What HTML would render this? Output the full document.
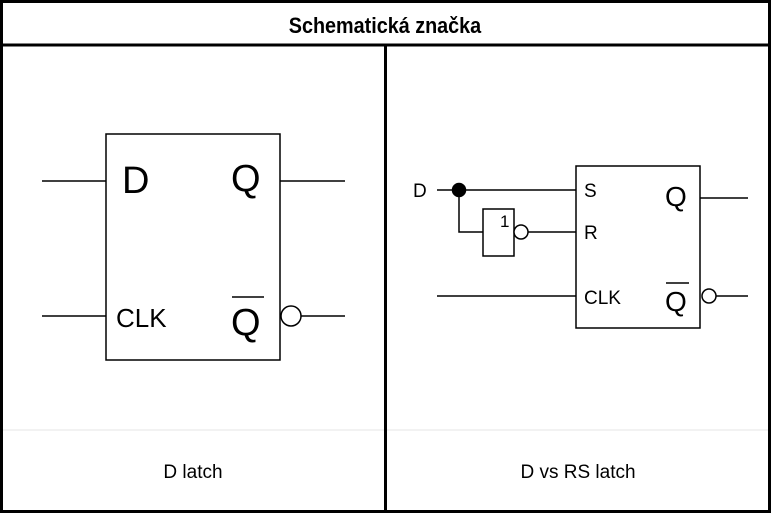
<!DOCTYPE html>
<html><head><meta charset="utf-8"><style>
body{margin:0;width:771px;height:513px;background:#fff;overflow:hidden}
</style></head><body>
<svg width="771" height="513" viewBox="0 0 771 513" xmlns="http://www.w3.org/2000/svg">
<rect x="0" y="0" width="771" height="513" fill="#fff"/>
<line x1="0" y1="430" x2="771" y2="430" stroke="#e6e6e6" stroke-width="1"/>
<rect x="1.5" y="1.5" width="768" height="510" fill="none" stroke="#000" stroke-width="3"/>
<line x1="0" y1="45" x2="771" y2="45" stroke="#000" stroke-width="3"/>
<line x1="385.5" y1="45" x2="385.5" y2="513" stroke="#000" stroke-width="3"/>
<text x="385" y="33" text-anchor="middle" font-family="Liberation Sans, sans-serif" font-weight="bold" font-size="22" transform="translate(385 0) scale(0.9 1) translate(-385 0)">Schematická značka</text>
<text x="193" y="478" text-anchor="middle" font-family="Liberation Sans, sans-serif" font-size="19">D latch</text>
<text x="578" y="478" text-anchor="middle" font-family="Liberation Sans, sans-serif" font-size="19">D vs RS latch</text>
<g stroke="#000" stroke-width="1.5" fill="none">
<rect x="106" y="134" width="174" height="226"/>
<line x1="42" y1="181" x2="106" y2="181"/><line x1="280" y1="181" x2="345" y2="181"/>
<line x1="42" y1="316" x2="106" y2="316"/><circle cx="291" cy="316" r="10" fill="#fff"/><line x1="301" y1="316" x2="345" y2="316"/>
<line x1="232" y1="297" x2="264" y2="297"/>
</g>
<g font-family="Liberation Sans, sans-serif" fill="#000">
<text x="122" y="193" font-size="38">D</text>
<text x="231" y="191" font-size="38">Q</text>
<text x="116" y="327" font-size="26">CLK</text>
<text x="231" y="335" font-size="38">Q</text>
</g>
<g stroke="#000" stroke-width="1.5" fill="none">
<rect x="576" y="166" width="124" height="162"/>
<line x1="437" y1="190" x2="576" y2="190"/>
<circle cx="459" cy="190" r="6.5" fill="#000"/>
<polyline points="459,190 459,232 483,232"/>
<rect x="483" y="209" width="31" height="47"/>
<circle cx="521" cy="232" r="7" fill="#fff"/>
<line x1="528" y1="232" x2="576" y2="232"/>
<line x1="437" y1="296" x2="576" y2="296"/>
<line x1="700" y1="198" x2="748" y2="198"/>
<circle cx="709" cy="296" r="7" fill="#fff"/>
<line x1="716" y1="296" x2="748" y2="296"/>
<line x1="666" y1="283" x2="689" y2="283"/>
</g>
<g font-family="Liberation Sans, sans-serif" fill="#000">
<text x="413" y="197" font-size="19">D</text>
<text x="500" y="227" font-size="17">1</text>
<text x="584" y="197" font-size="19">S</text>
<text x="584" y="239" font-size="19">R</text>
<text x="584" y="304" font-size="19">CLK</text>
<text x="665" y="206" font-size="28">Q</text>
<text x="665" y="311" font-size="28">Q</text>
</g>
</svg>
</body></html>
